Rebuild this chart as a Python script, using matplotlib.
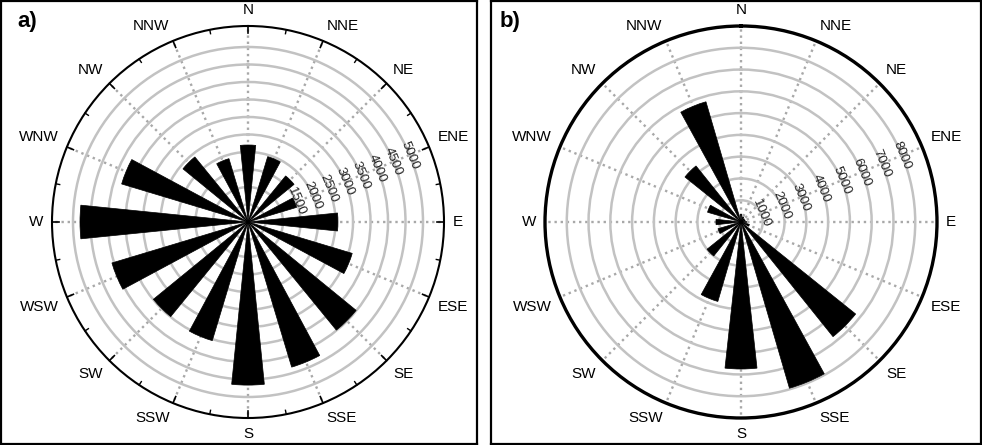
"""Two wind-rose panels (a, b) with 16 compass sectors."""

import numpy as np
import matplotlib
matplotlib.use("Agg")
import matplotlib.pyplot as plt

plt.rcParams["font.family"] = ["Liberation Sans", "DejaVu Sans"]

# --- data -------------------------------------------------------------
directions = ["N", "NNE", "NE", "ENE", "E", "ESE", "SE", "SSE",
              "S", "SSW", "SW", "WSW", "W", "WNW", "NW", "NNW"]
counts_a = [2200, 1950, 1700, 1450, 2570, 3110, 3990, 4330,
            4660, 3540, 3490, 4060, 4800, 3770, 2400, 1890]
counts_b = [350, 250, 200, 200, 250, 400, 6750, 7950,
            6750, 3800, 2000, 1100, 1150, 1600, 3300, 5750]
rings_a = [500, 1000, 1500, 2000, 2500, 3000, 3500, 4000, 4500, 5000]
ring_labels_a = [1500, 2000, 2500, 3000, 3500, 4000, 4500, 5000]
rings_b = [1000, 2000, 3000, 4000, 5000, 6000, 7000, 8000]
ring_labels_b = [1000, 2000, 3000, 4000, 5000, 6000, 7000, 8000]

W, H = 982, 445
fig = plt.figure(figsize=(W / 100, H / 100), dpi=100)


def frame(x0, x1, tag_x, tag):
    fa = fig.add_axes([x0 / W, 1 / H, (x1 - x0) / W, 443 / H], zorder=0)
    fa.set_xticks([])
    fa.set_yticks([])
    for s in fa.spines.values():
        s.set_linewidth(1.6)
    fa.text((tag_x - x0) / (x1 - x0), 1 - 21 / 443, tag,
            transform=fa.transAxes, fontsize=16, fontweight="bold",
            ha="left", va="center")


def rose(cx, cy, rad, counts, rmax, rings, ring_labels, width_deg,
         spine_lw, ticks):
    ax = fig.add_axes([(cx - rad) / W, (H - cy - rad) / H,
                       2 * rad / W, 2 * rad / H], projection="polar", zorder=1)
    ax.set_theta_zero_location("N")
    ax.set_theta_direction(-1)
    ax.set_ylim(0, rmax)
    ax.set_facecolor("none")
    px = rmax / rad  # data units per pixel

    theta = np.deg2rad(np.arange(16) * 22.5)
    ax.set_xticks(theta)
    ax.set_xticklabels([])
    ax.set_yticks(rings)
    ax.set_yticklabels([])
    ax.tick_params(axis="x", which="both", length=0)
    ax.xaxis.grid(True, color="#a8a8a8", linestyle=(0, (1, 1.6)), linewidth=1.7)
    ax.yaxis.grid(True, color="#c2c2c2", linestyle="-", linewidth=1.8)
    ax.set_axisbelow(True)
    ax.spines["polar"].set_linewidth(spine_lw)

    if ticks:
        for t in theta:
            ax.plot([t, t], [rmax - 7 * px, rmax], color="black", lw=1.2,
                    clip_on=False, zorder=4)
            tm = t + np.deg2rad(11.25)
            ax.plot([tm, tm], [rmax - 4 * px, rmax], color="black", lw=1.0,
                    clip_on=False, zorder=4)

    # radial value labels along the ENE spoke, beneath the bars
    for v in ring_labels:
        ax.text(np.deg2rad(67.5), v, str(v), rotation=-67.5,
                rotation_mode="anchor", ha="center", va="center",
                fontsize=9.5, color="#222222", zorder=2)

    ax.bar(theta, counts, width=np.deg2rad(width_deg), color="black",
           edgecolor="black", linewidth=0.5, zorder=3)

    # compass labels outside the circle
    rlab = 205 * px
    for t, name in zip(theta, directions):
        sx, cy_ = np.sin(t), np.cos(t)
        ha = "left" if sx > 0.1 else ("right" if sx < -0.1 else "center")
        va = "bottom" if cy_ > 0.2 else ("top" if cy_ < -0.2 else "center")
        ax.text(t, rlab, name, ha=ha, va=va, fontsize=11, clip_on=False)
    return ax


frame(1, 477, 17, "a)")
frame(491, 981, 500, "b)")
rose(248, 222, 196, counts_a, 5600, rings_a, ring_labels_a, 11.5, 1.5, True)
rose(741, 222, 196, counts_b, 9000, rings_b, ring_labels_b, 12.5, 2.4, False)

fig.savefig("out.png", dpi=100)
